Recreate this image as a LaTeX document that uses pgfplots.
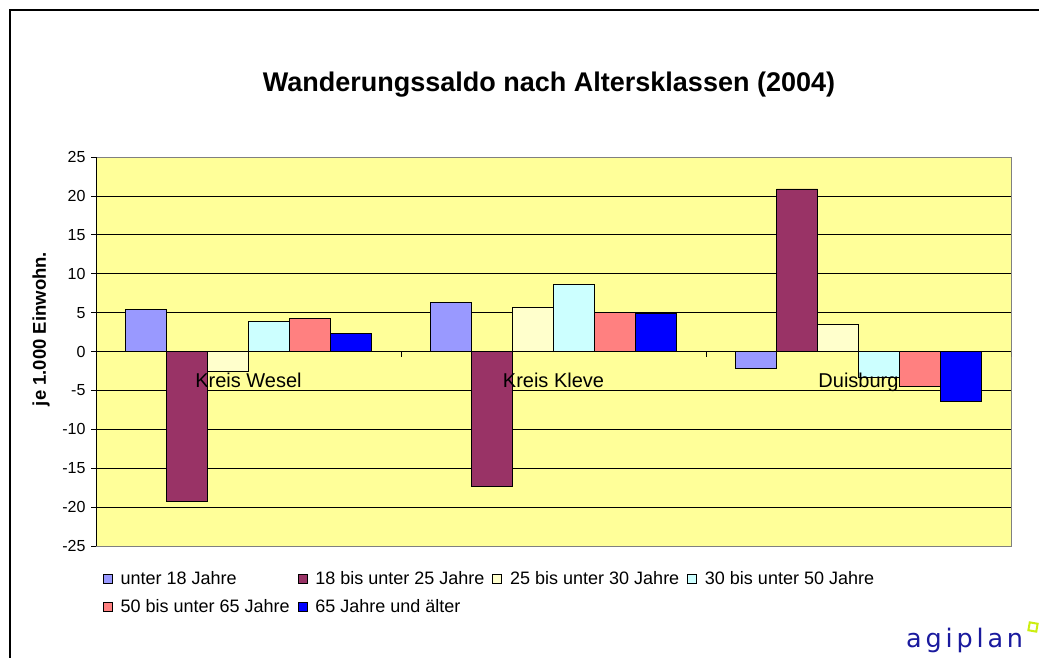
\documentclass[border=0pt]{standalone}
\usepackage{fontspec}
\setmainfont{Liberation Sans}
\newfontfamily\logofont[LetterSpace=15]{DejaVu Sans}
\usepackage{pgfplots}
\usepackage{pgfplotstable}
\pgfplotsset{compat=1.18}
\definecolor{cA}{HTML}{9999FF}
\definecolor{cB}{HTML}{993366}
\definecolor{cC}{HTML}{FFFFCC}
\definecolor{cD}{HTML}{CCFFFF}
\definecolor{cE}{HTML}{FF8080}
\definecolor{cF}{HTML}{0000FF}
\definecolor{bgy}{HTML}{FFFF99}
\definecolor{logoblue}{HTML}{1A1A9E}
\definecolor{logolime}{HTML}{CCEE11}

% x: 0 = Kreis Wesel, 1 = Kreis Kleve, 2 = Duisburg
\pgfplotstableread{
x  a     b      c     d     e     f
0  5.4  -19.3  -2.6   3.9   4.2   2.3
1  6.3  -17.3   5.7   8.6   5.0   4.9
2 -2.2   20.9   3.5  -3.3  -4.5  -6.4
}\datatable

\begin{document}
\begin{tikzpicture}
\useasboundingbox (0pt,0pt) rectangle (1039pt,657pt);
\draw[line width=1.4pt] (10pt,-20pt) -- (10pt,647pt) -- (1060pt,647pt);
\node[font=\bfseries\fontsize{27}{32}\selectfont] at (549pt,572pt) {Wanderungssaldo nach Altersklassen (2004)};
\node[font=\bfseries\fontsize{18.5}{22}\selectfont, rotate=90] at (41pt,328pt) {je 1.000 Einwohn.};
\begin{axis}[
  at={(96pt,111pt)}, anchor=south west,
  scale only axis, width=915pt, height=389pt,
  xmin=-0.5, xmax=2.5, ymin=-25, ymax=25,
  ytick={-25,-20,...,25}, xtick=\empty,
  ybar=0pt, bar width=41pt,
  axis background/.style={fill=bgy},
  axis line style={draw=gray},
  ymajorgrids, major grid style={black, line width=0.7pt},
  ytick pos=left, tick align=outside, major tick length=5pt,
  tick style={black, line width=0.7pt},
  yticklabel style={font=\fontsize{16}{18}\selectfont, xshift=-2pt},
  /pgf/number format/assume math mode=true,
  every axis plot/.append style={draw=black, line width=0.7pt},
  legend columns=4,
  legend style={at={(0.004,-0.055)}, anchor=north west, draw=none, fill=none,
    font=\fontsize{18}{21}\selectfont, row sep=9pt,
    /tikz/every odd column/.append style={column sep=6pt},
    /tikz/every even column/.append style={column sep=6pt}},
  legend cell align=left,
  legend image code/.code={\draw[#1, draw=black, line width=0.7pt] (0pt,-4.5pt) rectangle (9pt,4.5pt);},
]
\addplot[fill=cA] table[x=x,y=a]{\datatable};
\addplot[fill=cB] table[x=x,y=b]{\datatable};
\addplot[fill=cC] table[x=x,y=c]{\datatable};
\addplot[fill=cD] table[x=x,y=d]{\datatable};
\addplot[fill=cE] table[x=x,y=e]{\datatable};
\addplot[fill=cF] table[x=x,y=f]{\datatable};
\legend{unter 18 Jahre, 18 bis unter 25 Jahre, 25 bis unter 30 Jahre, 30 bis unter 50 Jahre, 50 bis unter 65 Jahre, 65 Jahre und älter}
\draw[black, line width=0.9pt] (axis cs:-0.5,0) -- (axis cs:2.5,0);
\draw[black, line width=0.9pt] (axis cs:-0.5,-25) -- (axis cs:-0.5,25);
\draw[black, line width=0.7pt] (axis cs:-0.5,0) -- ++(0pt,-5pt);
\draw[black, line width=0.7pt] (axis cs:0.5,0) -- ++(0pt,-5pt);
\draw[black, line width=0.7pt] (axis cs:1.5,0) -- ++(0pt,-5pt);
\draw[black, line width=0.7pt] (axis cs:2.5,0) -- ++(0pt,-5pt);
\node[anchor=north, inner sep=0pt, font=\fontsize{20}{24}\selectfont] at (axis cs:0,0) [yshift=-21pt] {Kreis Wesel};
\node[anchor=north, inner sep=0pt, font=\fontsize{20}{24}\selectfont] at (axis cs:1,0) [yshift=-21pt] {Kreis Kleve};
\node[anchor=north, inner sep=0pt, font=\fontsize{20}{24}\selectfont] at (axis cs:2,0) [yshift=-21pt] {Duisburg};
\end{axis}
\node[anchor=base west, inner sep=0pt, text=logoblue, font=\logofont\fontsize{25.5}{30}\selectfont] at (906pt,10pt) {agiplan};
\draw[logolime, line width=2pt, rotate around={-10:(1033pt,30pt)}] (1029pt,26pt) rectangle (1037pt,34pt);
\end{tikzpicture}
\end{document}
